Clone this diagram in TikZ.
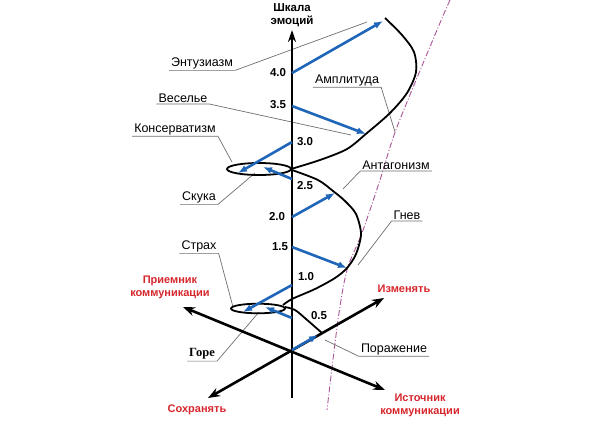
\documentclass[tikz,border=0pt]{standalone}
\usepackage{fontspec}
\setmainfont{Liberation Sans}
\newfontfamily\goreface{Liberation Serif}
\usepackage{xcolor}
\usetikzlibrary{arrows.meta, positioning, calc}

\definecolor{vecblue}{RGB}{32,102,184}
\definecolor{polered}{RGB}{214,38,44}
\definecolor{ampviolet}{RGB}{168,84,150}
\definecolor{leadgray}{RGB}{110,110,110}

\begin{document}
\begin{tikzpicture}[x=1pt, y=-1pt,
  axisline/.style={line width=2.6pt, {Stealth[length=12pt,width=9pt]}-{Stealth[length=12pt,width=9pt]}},
  vec/.style={line width=2.6pt, draw=vecblue, -{Latex[length=9pt,width=7pt]}},
  spiral/.style={line width=1.8pt},
  emo/.style={font=\fontsize{12.5}{14}\selectfont, inner xsep=2pt, inner ysep=1.5pt},
  val/.style={font=\bfseries\fontsize{11.5}{13}\selectfont, inner sep=0pt},
  pole/.style={font=\bfseries\fontsize{11}{13}\selectfont, text=polered, align=center},
  lead/.style={draw=leadgray, line width=0.7pt}]
\useasboundingbox (0,0) rectangle (591,426);

% axes
\coordinate (o) at (292,350);
\coordinate (top) at (292,30);
\coordinate (bot) at (292,398);
\coordinate (keep) at (208,398);
\coordinate (change) at (384,298);
\coordinate (recv) at (183,307);
\coordinate (send) at (385,390);

% scale points
\coordinate (a05) at (292,318);
\coordinate (a10) at (292,285);
\coordinate (a15) at (292,247);
\coordinate (a20) at (292,217);
\coordinate (a25) at (292,179);
\coordinate (a30) at (292,142);
\coordinate (a35) at (292,106);
\coordinate (a40) at (292,73);

% points on the spiral
\coordinate (pPor) at (318,335);
\coordinate (pGore) at (265,307);
\coordinate (pStrah) at (243,312);
\coordinate (pGnev) at (347,268);
\coordinate (pAnt) at (335,193);
\coordinate (pSkuka) at (263,167);
\coordinate (pKons) at (238,173);
\coordinate (pVes) at (366,134);
\coordinate (pEnt) at (383,21);

% leader ends
\coordinate (lEnt) at (367,22);
\coordinate (lVes) at (351,135);
\coordinate (lKons) at (232,162);
\coordinate (lSkuka) at (255,173);
\coordinate (lStrah) at (233,307);
\coordinate (lGore) at (259,312);
\coordinate (lPor) at (325,340);
\coordinate (lGnev) at (358,265);
\coordinate (lAnt) at (343,189);
\coordinate (lAmp) at (395,132);

% amplitude line
\draw[ampviolet, line width=0.9pt, dash pattern=on 6pt off 2pt on 1pt off 2pt]
  plot[smooth] coordinates {(450,0) (437,30) (397,127) (380,180) (362,233) (347,270) (338,320) (327,410)};

% labels with leaders
\node[emo] (ent) at (202,63) {Энтузиазм};
\node[emo] (ves) at (183,98) {Веселье};
\node[emo] (kons) at (175,129) {Консерватизм};
\node[emo] (skuka) at (199,197) {Скука};
\node[emo] (strah) at (199,246) {Страх};
\node[emo, font=\goreface\bfseries\fontsize{12.5}{14}\selectfont] (gore) at (202,354) {Горе};
\node[emo] (por) at (394,349) {Поражение};
\node[emo] (gnev) at (407,215) {Гнев};
\node[emo] (ant) at (396,165) {Антагонизм};
\node[emo] (ampl) at (347,80) {Амплитуда};

\draw[lead] (ent.south west) -- (ent.south east) -- (lEnt);
\draw[lead] (ves.south west) -- (ves.south east) -- (lVes);
\draw[lead] (kons.south west) -- (kons.south east) -- (lKons);
\draw[lead] (skuka.south west) -- (skuka.south east) -- (lSkuka);
\draw[lead] (strah.south west) -- (strah.south east) -- (lStrah);
\draw[lead] (gore.south west) -- (gore.south east) -- (lGore);
\draw[lead] (lPor) -- (por.south west) -- (por.south east);
\draw[lead] (lGnev) -- (gnev.south west) -- (gnev.south east);
\draw[lead] (lAnt) -- (ant.south west) -- (ant.south east);
\draw[lead] (ampl.south west) -- (ampl.south east) -- (lAmp);

% spiral
\draw[spiral] plot[smooth] coordinates {(322,333) (306,319) (295,310) (285,307)};
\draw[spiral] (258,308.5) ellipse [x radius=27, y radius=4.8];
\draw[spiral] plot[smooth] coordinates {(283,305) (292,299) (315,289) (335,278) (347,268) (356,254) (361,234) (356,214) (345,201) (333,191) (318,180) (292,170)};
\draw[spiral] (259,169) ellipse [x radius=32, y radius=6];
\draw[spiral] plot[smooth] coordinates {(291,169) (320,160) (347,149) (367,133) (390,113) (407,93) (416,72) (414,52) (402,35) (385,18)};

% axes
\draw[line width=2.4pt, -{Stealth[length=12pt,width=8pt]}] (bot) -- (top);
\draw[axisline] (keep) -- (change);
\draw[axisline] (recv) -- (send);

% emotion vectors
\draw[vec] (o) -- (pPor);
\draw[vec] (a05) -- (pGore);
\draw[vec] (a10) -- (pStrah);
\draw[vec] (a15) -- (pGnev);
\draw[vec] (a20) -- (pAnt);
\draw[vec] (a25) -- (pSkuka);
\draw[vec] (a30) -- (pKons);
\draw[vec] (a35) -- (pVes);
\draw[vec] (a40) -- (pEnt);

% scale values
\node[val] (v40) at (278,73) {4.0};
\node[val] (v35) at (278,105) {3.5};
\node[val] (v30) at (305,142) {3.0};
\node[val] (v25) at (305,186) {2.5};
\node[val] (v20) at (277,217) {2.0};
\node[val] (v15) at (280,247) {1.5};
\node[val] (v10) at (306,277) {1.0};
\node[val] (v05) at (319,316) {0.5};

\node[font=\bfseries\fontsize{11.5}{13}\selectfont, align=center] (title) at (292,15) {Шкала\\эмоций};

% poles
\node[pole] (recvlbl) at (170,287) {Приемник\\коммуникации};
\node[pole] (changelbl) at (404,289) {Изменять};
\node[pole] (keeplbl) at (197,410) {Сохранять};
\node[pole] (sendlbl) at (420,405) {Источник\\коммуникации};
\end{tikzpicture}
\end{document}
